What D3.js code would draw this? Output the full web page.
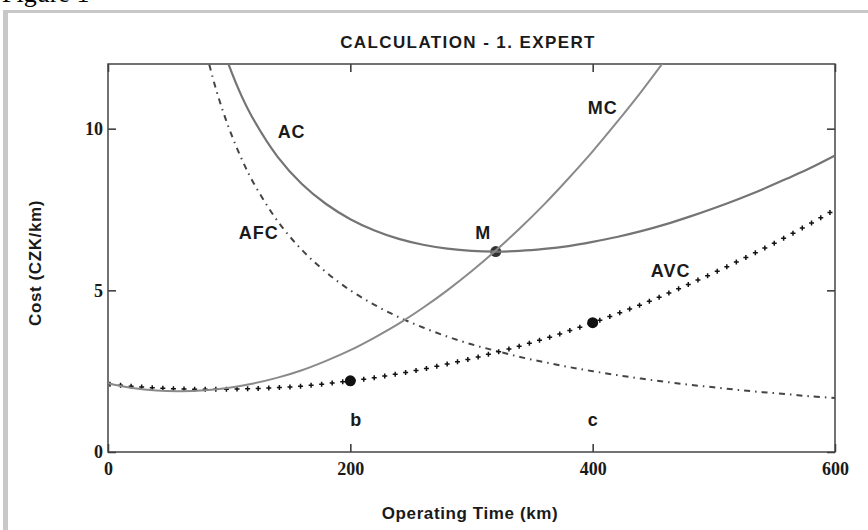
<!DOCTYPE html>
<html>
<head>
<meta charset="utf-8">
<script src="https://cdn.jsdelivr.net/npm/d3@7"></script>
<style>
  body { margin: 0; background: #fff; }
  text { font-family: "Liberation Sans", Arial, sans-serif; fill: #1a1a1a; }
</style>
</head>
<body>
<div class="chart"></div>
<script>
var svgWidth = 868;
var svgHeight = 530;

var margin = { top: 64, right: 33, bottom: 78, left: 108 };
var width = svgWidth - margin.left - margin.right;
var height = svgHeight - margin.top - margin.bottom;

// values
var opTime = [0, 20, 40, 60, 80, 100, 120, 140, 160, 180, 200, 220, 240, 260, 280, 300,
  320, 340, 360, 380, 400, 420, 440, 460, 480, 500, 520, 540, 560, 580, 600];
var avc = [2.1, 2.03, 1.98, 1.95, 1.94, 1.94, 1.96, 1.99, 2.04, 2.11, 2.2, 2.3, 2.42, 2.56, 2.72, 2.89,
  3.08, 3.28, 3.5, 3.74, 4.0, 4.27, 4.56, 4.87, 5.2, 5.54, 5.9, 6.27, 6.66, 7.07, 7.5];

var mcTime = [0, 20, 40, 60, 80, 100, 120, 140, 160, 180, 200, 220, 240, 260, 280, 300,
  320, 340, 360, 380, 400, 420, 440, 460];
var mc = [2.12, 1.98, 1.9, 1.88, 1.91, 1.99, 2.12, 2.3, 2.53, 2.82, 3.15, 3.54, 3.97, 4.46, 5.0, 5.59,
  6.23, 6.92, 7.66, 8.46, 9.3, 10.2, 11.14, 12.14];

var fixTime = [80, 90, 100, 110, 120, 140, 160, 180, 200, 220, 240, 260, 280, 300, 320, 340,
  360, 380, 400, 420, 440, 460, 480, 500, 520, 540, 560, 580, 600];
var afc = [12.5, 11.11, 10.0, 9.09, 8.33, 7.14, 6.25, 5.56, 5.0, 4.55, 4.17, 3.85, 3.57, 3.33, 3.13, 2.94,
  2.78, 2.63, 2.5, 2.38, 2.27, 2.17, 2.08, 2.0, 1.92, 1.85, 1.79, 1.72, 1.67];
var ac = [14.44, 13.04, 11.94, 11.03, 10.29, 9.13, 8.29, 7.67, 7.2, 6.85, 6.59, 6.41, 6.29, 6.22, 6.2, 6.22,
  6.28, 6.37, 6.5, 6.65, 6.83, 7.04, 7.28, 7.54, 7.82, 8.12, 8.45, 8.79, 9.17];

var pointTime = [200, 320, 400];
var pointCost = [2.2, 6.2, 4.0];

var xTicks = [0, 200, 400, 600];
var yTicks = [0, 5, 10];

var curveLabels = [
  { t: 'AC', x: 140, y: 9.7 },
  { t: 'MC', x: 396, y: 10.45 },
  { t: 'AFC', x: 108, y: 6.59 },
  { t: 'M', x: 303, y: 6.59 },
  { t: 'AVC', x: 448, y: 5.41 },
  { t: 'b', x: 200, y: 0.8 },
  { t: 'c', x: 396, y: 0.8 }
];

var svg = d3.select('.chart')
  .append('svg')
  .attr('width', svgWidth)
  .attr('height', svgHeight);

// grey figure frame and the caption cut by the top edge
svg.append('text')
  .attr('x', 2)
  .attr('y', 2)
  .style('font-family', '"Liberation Serif", serif')
  .style('font-size', '26px')
  .style('fill', '#000')
  .text('Figure 1');
svg.append('rect').attr('x', 3).attr('y', 10).attr('width', svgWidth - 3).attr('height', 3).attr('fill', '#c8c8c8');
svg.append('rect').attr('x', 3).attr('y', 10).attr('width', 5).attr('height', svgHeight - 10).attr('fill', '#c8c8c8');

var chartGroup = svg.append('g')
  .attr('transform', `translate(${margin.left}, ${margin.top})`);

var xScale = d3.scaleLinear().domain([0, 600]).range([0, width]);
var yScale = d3.scaleLinear().domain([0, 12]).range([height, 0]);

chartGroup.append('clipPath').attr('id', 'plot')
  .append('rect').attr('width', width).attr('height', height);

// axes, ticks inside on all four sides
function styleAxis(g) {
  g.select('.domain').remove();
  g.selectAll('line').attr('stroke', '#333').attr('stroke-width', 1.5);
  g.selectAll('text')
    .style('font-family', '"Liberation Serif", serif')
    .style('font-weight', 'bold')
    .style('font-size', '18px')
    .style('fill', '#1a1a1a');
}

chartGroup.append('g')
  .attr('transform', `translate(0, ${height})`)
  .call(d3.axisBottom(xScale).tickValues(xTicks).tickSizeInner(-8).tickSizeOuter(0).tickPadding(10))
  .call(styleAxis);
chartGroup.append('g')
  .call(d3.axisTop(xScale).tickValues(xTicks).tickSizeInner(-8).tickSizeOuter(0).tickFormat(''))
  .call(styleAxis);
chartGroup.append('g')
  .call(d3.axisLeft(yScale).tickValues(yTicks).tickSizeInner(-8).tickSizeOuter(0).tickPadding(5))
  .call(styleAxis);
chartGroup.append('g')
  .attr('transform', `translate(${width}, 0)`)
  .call(d3.axisRight(yScale).tickValues(yTicks).tickSizeInner(-8).tickSizeOuter(0).tickFormat(''))
  .call(styleAxis);

chartGroup.append('rect')
  .attr('width', width)
  .attr('height', height)
  .attr('fill', 'none')
  .attr('stroke', '#444')
  .attr('stroke-width', 1.5);

var plot = chartGroup.append('g').attr('clip-path', 'url(#plot)');

function lineOf(xs, ys) {
  return d3.line()
    .x((d, i) => xScale(xs[i]))
    .y(d => yScale(d))
    .curve(d3.curveCatmullRom)(ys);
}

// dots
plot.selectAll('circle')
  .data(pointTime)
  .enter()
  .append('circle')
  .attr('cx', d => xScale(d))
  .attr('cy', (d, i) => yScale(pointCost[i]))
  .attr('r', 5.5)
  .attr('fill', (d, i) => i === 1 ? '#333' : '#111');

// AFC dash-dot
plot.append('path')
  .attr('d', lineOf(fixTime, afc))
  .attr('fill', 'none')
  .attr('stroke', '#444')
  .attr('stroke-width', 2)
  .attr('stroke-dasharray', '6,5,1.5,5');

// AVC as a row of small plus marks along the curve
var avcPath = plot.append('path')
  .attr('d', lineOf(opTime, avc))
  .attr('fill', 'none')
  .attr('stroke', 'none');
var len = avcPath.node().getTotalLength();
var plusPts = [];
for (var s = 2; s <= len; s += 10.6) {
  plusPts.push(avcPath.node().getPointAtLength(s));
}
plot.selectAll('.plus')
  .data(plusPts)
  .enter()
  .append('path')
  .attr('class', 'plus')
  .attr('d', p => `M${p.x - 2.5},${p.y}H${p.x + 2.5}M${p.x},${p.y - 2.5}V${p.y + 2.5}`)
  .attr('stroke', '#111')
  .attr('stroke-width', 1.5);

// AC and MC solid grey
plot.append('path')
  .attr('d', lineOf(fixTime, ac))
  .attr('fill', 'none')
  .attr('stroke', '#747474')
  .attr('stroke-width', 2.2);

plot.append('path')
  .attr('d', lineOf(mcTime, mc))
  .attr('fill', 'none')
  .attr('stroke', '#8a8a8a')
  .attr('stroke-width', 2);

// curve labels
chartGroup.selectAll('.clabel')
  .data(curveLabels)
  .enter()
  .append('text')
  .attr('class', 'clabel')
  .attr('x', d => xScale(d.x))
  .attr('y', d => yScale(d.y))
  .style('font-size', '18px')
  .style('font-weight', 'bold')
  .style('letter-spacing', '1px')
  .text(d => d.t);

// title and axis labels
svg.append('text')
  .attr('x', 468)
  .attr('y', 48)
  .attr('text-anchor', 'middle')
  .style('font-size', '17px')
  .style('font-weight', 'bold')
  .style('letter-spacing', '1.4px')
  .text('CALCULATION - 1. EXPERT');

svg.append('text')
  .attr('x', 470)
  .attr('y', 519)
  .attr('text-anchor', 'middle')
  .style('font-size', '17px')
  .style('font-weight', 'bold')
  .style('letter-spacing', '0.6px')
  .text('Operating Time (km)');

svg.append('text')
  .attr('transform', 'rotate(-90)')
  .attr('x', -263)
  .attr('y', 41)
  .attr('text-anchor', 'middle')
  .style('font-size', '17px')
  .style('font-weight', 'bold')
  .style('letter-spacing', '0.6px')
  .text('Cost (CZK/km)');
</script>
</body>
</html>
